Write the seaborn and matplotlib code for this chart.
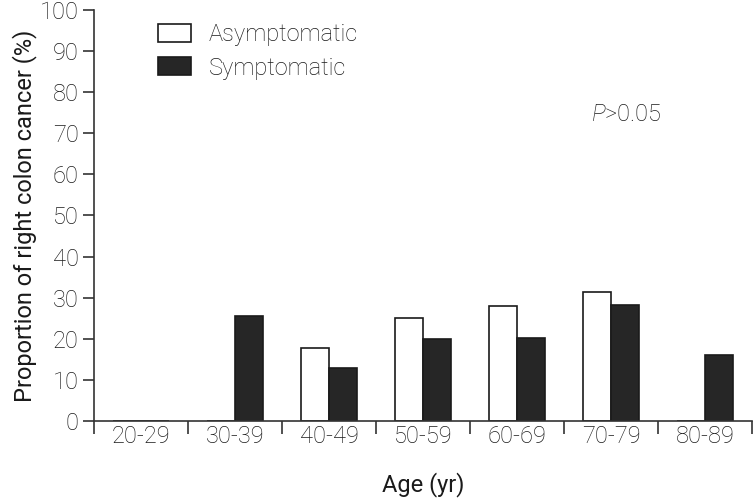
"""
Proportion of right colon cancer by age group, asymptomatic vs symptomatic.
"""

import matplotlib.pyplot as plt
import pandas as pd
import seaborn as sns
from matplotlib.ticker import FixedLocator


# Values
age_groups = ['20-29', '30-39', '40-49', '50-59', '60-69', '70-79', '80-89']
asymptomatic = [0, 0, 17.8, 25.1, 28.0, 31.3, 0]
symptomatic = [0, 25.5, 12.8, 20.0, 20.2, 28.2, 16.1]
groups = ['Asymptomatic', 'Symptomatic']


def build_frame() -> pd.DataFrame:
    """
    Long-form table for seaborn.
    """

    rows = []
    for age, a, s in zip(age_groups, asymptomatic, symptomatic):
        rows.append({'age': age, 'group': groups[0], 'value': a})
        rows.append({'age': age, 'group': groups[1], 'value': s})
    return pd.DataFrame(rows)


def main():
    """
    """

    sns.set_style('ticks')
    plt.rcParams['font.family'] = ['Roboto', 'DejaVu Sans']
    plt.rcParams['font.weight'] = 'light'
    plt.rcParams['mathtext.fontset'] = 'custom'
    plt.rcParams['mathtext.it'] = 'Roboto:italic:light'
    plt.rcParams['mathtext.rm'] = 'Roboto:light'
    text_color = '#1a1a1a'
    fs = 17

    df = build_frame()
    fig = plt.figure(figsize=(7.53, 5.0), dpi=100)
    ax = fig.add_axes([0.125, 0.158, 0.874, 0.822])

    sns.barplot(data=df, x='age', y='value', hue='group', hue_order=groups,
                palette=['white', '#262626'], edgecolor='#1a1a1a',
                linewidth=1.2, width=0.6, ax=ax)

    ax.set_xlim(-0.5, 6.5)
    ax.set_ylim(0, 100)
    ax.set_yticks(range(0, 101, 10))
    ax.set_xlabel('Age (yr)', fontsize=fs, color=text_color, labelpad=17)
    ax.set_ylabel('Proportion of right colon cancer (%)', fontsize=fs,
                  color=text_color, labelpad=2)

    # Ticks between categories, none under labels
    ax.xaxis.set_minor_locator(FixedLocator([i - 0.5 for i in range(8)]))
    ax.tick_params(axis='x', which='major', length=0, pad=3,
                   labelsize=fs, labelcolor=text_color)
    ax.tick_params(axis='x', which='minor', length=9, width=1.2,
                   color='#333333')
    ax.tick_params(axis='y', length=8, width=1.2, color='#333333',
                   labelsize=fs, labelcolor=text_color, pad=3)
    sns.despine(ax=ax)
    for side in ['left', 'bottom']:
        ax.spines[side].set_linewidth(1.2)
        ax.spines[side].set_color('#333333')

    leg = ax.legend(loc='upper left', bbox_to_anchor=(0.065, 1.02),
                    frameon=False, fontsize=fs, handlelength=1.4,
                    handleheight=0.8, handletextpad=0.75,
                    labelspacing=0.45)
    for t in leg.get_texts():
        t.set_color(text_color)

    ax.text(0.755, 0.745, '$P$>0.05', transform=ax.transAxes,
            fontsize=fs, color=text_color, va='center')

    plt.savefig('out.png', dpi=100)


if __name__ == "__main__":
    main()
